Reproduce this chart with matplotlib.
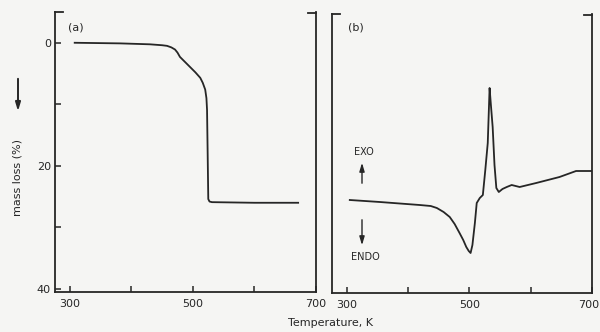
import numpy as np
import matplotlib.pyplot as plt
from matplotlib.patches import FancyArrowPatch

# (a) TG curve: temperature (K) vs mass loss (%)
tg_temp = [308, 382, 430, 450, 458, 465, 471, 475, 479, 487, 495, 504, 512,
           516, 520, 522, 523, 524, 525, 527, 531, 600, 671]
tg_loss = [0.0, 0.1, 0.25, 0.4, 0.5, 0.75, 1.1, 1.6, 2.3, 3.1, 3.9, 4.8, 5.7,
           6.5, 7.6, 9.0, 10.9, 18.0, 25.4, 25.8, 25.9, 26.0, 26.0]

# (b) DTA curve: temperature (K) vs signal (arbitrary units, exo up)
dta_temp = [305, 354, 419, 437, 447, 458, 468, 476, 484, 490, 495, 499, 502,
            505, 509, 512, 517, 522, 526, 530, 533, 535, 538, 541, 544, 548,
            554, 561, 569, 582, 609, 647, 674, 700]
dta_sig = [0.0, -0.2, -0.5, -0.6, -0.8, -1.2, -1.7, -2.4, -3.3, -4.0, -4.7,
           -5.1, -5.3, -4.5, -2.3, -0.3, 0.2, 0.5, 3.0, 5.7, 11.2, 9.6, 7.3,
           3.5, 1.2, 0.8, 1.1, 1.3, 1.5, 1.3, 1.7, 2.3, 2.9, 2.9]

x_ticks = [300, 400, 500, 600, 700]
x_labels = ['300', '', '500', '', '700']
y_ticks = [0, 10, 20, 30, 40]
y_labels = ['0', '', '20', '', '40']

W, H = 600, 332
ink = '#262626'
plt.rcParams['font.family'] = ['DejaVu Sans']

fig = plt.figure(figsize=(6, 3.32), dpi=100, facecolor='#f5f5f3')


def px_box(l, t, r, b):
    return [l / W, 1 - b / H, (r - l) / W, (b - t) / H]


def fx(x):
    return x / W


def fy(y):
    return 1 - y / H


axa = fig.add_axes(px_box(55, 12, 316, 292))
axb = fig.add_axes(px_box(332, 14, 592, 293))

for ax in (axa, axb):
    ax.set_facecolor('none')
    ax.spines['top'].set_visible(False)
    for s in ('left', 'right', 'bottom'):
        ax.spines[s].set_color(ink)
        ax.spines[s].set_linewidth(1.3)
    ax.set_xlim(276, 700)
    ax.set_xticks(x_ticks)
    ax.tick_params(direction='in', length=4, width=1.1, color=ink,
                   labelsize=8, labelcolor=ink, pad=5)
    # small hooks at the top of the side lines
    ax.plot([0, 0.03], [1, 1], color=ink, lw=1.3, transform=ax.transAxes, clip_on=False)
    ax.plot([0.97, 1], [0.995, 0.995], color=ink, lw=1.3, transform=ax.transAxes, clip_on=False)

# panel (a)
axa.set_xticklabels(x_labels)
axa.plot(tg_temp, tg_loss, color=ink, lw=1.3, solid_joinstyle='round')
axa.set_ylim(40.5, -5)
axa.set_yticks(y_ticks)
axa.set_yticklabels(y_labels)
axa.tick_params(axis='y', pad=3)
axa.text(fx(68), fy(28), '(a)', transform=fig.transFigure, fontsize=8,
         color=ink, va='center', ha='left')

# panel (b)
axb.set_xticklabels(x_labels[:-1] + [''])
fig.text(fx(599), fy(305), x_labels[-1], fontsize=8, color=ink,
         ha='right', va='center')
axb.plot(dta_temp, dta_sig, color=ink, lw=1.3, solid_joinstyle='round')
axb.set_ylim(-9.3, 18.6)
axb.set_yticks([])
axb.text(fx(348), fy(27), '(b)', transform=fig.transFigure, fontsize=8,
         color=ink, va='center', ha='left')

fig.text(fx(364), fy(152), 'EXO', fontsize=7, color=ink, ha='center', va='center')
fig.text(fx(365), fy(257), 'ENDO', fontsize=7, color=ink, ha='center', va='center')
arrow = dict(arrowstyle='-|>,head_length=0.5,head_width=0.15', color=ink, lw=1.0,
             mutation_scale=10)
fig.add_artist(FancyArrowPatch((fx(362), fy(186)), (fx(362), fy(160)),
                               transform=fig.transFigure, **arrow))
fig.add_artist(FancyArrowPatch((fx(362), fy(217)), (fx(362), fy(248)),
                               transform=fig.transFigure, **arrow))

# axis labels
fig.text(fx(18), fy(178), 'mass loss (%)', rotation=90, fontsize=8, color=ink,
         ha='center', va='center')
fig.add_artist(FancyArrowPatch((fx(18), fy(76)), (fx(18), fy(114)),
                               transform=fig.transFigure,
                               arrowstyle='-|>,head_length=0.5,head_width=0.15',
                               color=ink, lw=1.4, mutation_scale=10))
fig.text(fx(330), fy(323), 'Temperature, K', fontsize=8, color=ink,
         ha='center', va='center')

fig.savefig('out.png', dpi=100, facecolor=fig.get_facecolor())
